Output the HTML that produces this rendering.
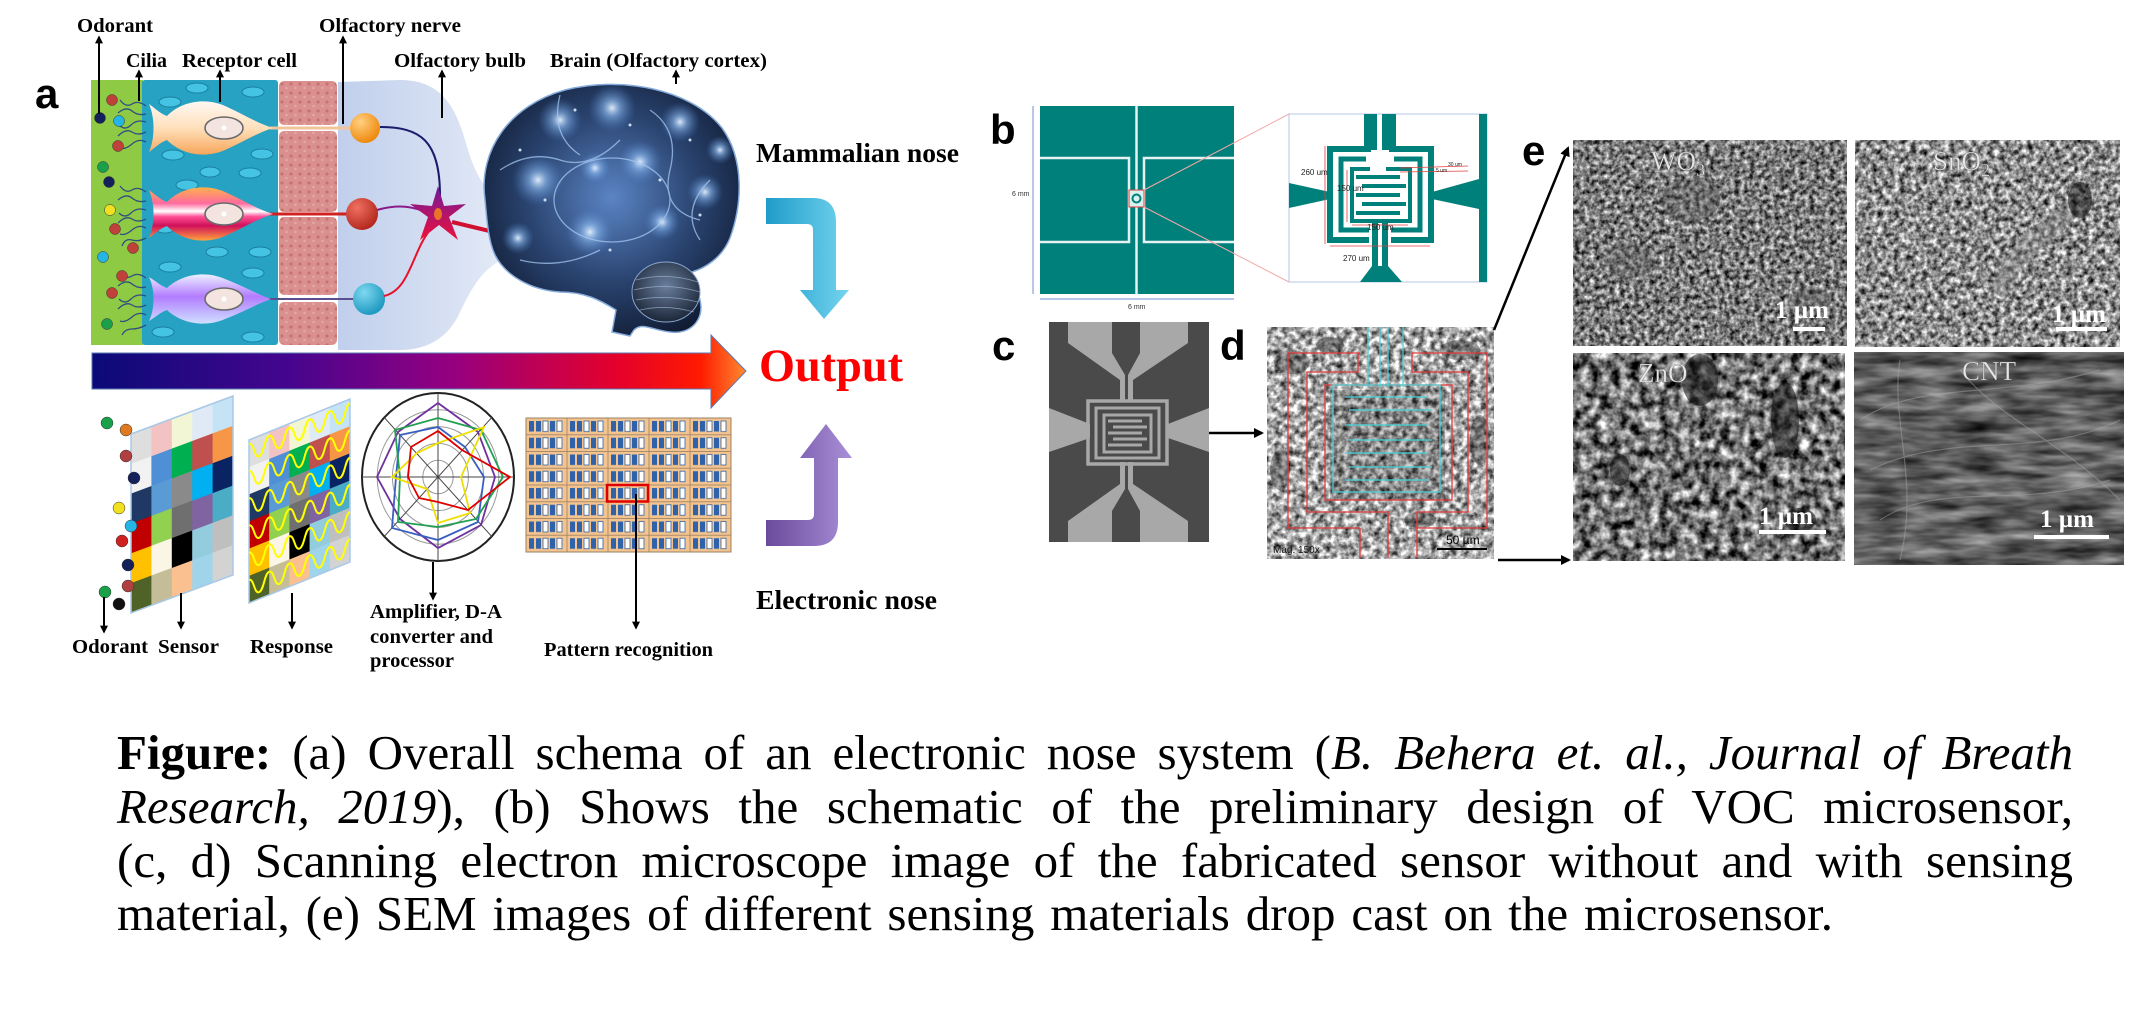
<!DOCTYPE html>
<html><head><meta charset="utf-8">
<style>
html,body{margin:0;padding:0;background:#fff;}
#wrap{position:relative;width:2138px;height:1013px;overflow:hidden;background:#fff;}
svg{position:absolute;left:0;top:0;}
.cap{position:absolute;left:117px;font-family:"Liberation Serif","Times New Roman",serif;font-size:49px;line-height:60px;color:#000;text-align:justify;text-align-last:justify;}
</style></head><body><div id="wrap">
<svg width="2138" height="1013" viewBox="0 0 2138 1013" xmlns="http://www.w3.org/2000/svg">
<defs>
<linearGradient id="gA" gradientUnits="userSpaceOnUse" x1="92" y1="0" x2="746" y2="0"><stop offset="0" stop-color="#0a0a78"/><stop offset="0.3" stop-color="#45058e"/><stop offset="0.55" stop-color="#950080"/><stop offset="0.8" stop-color="#e4002c"/><stop offset="0.93" stop-color="#ff1a00"/><stop offset="1" stop-color="#ff8a30"/></linearGradient>
<linearGradient id="gCy" x1="0" y1="0" x2="1" y2="0"><stop offset="0" stop-color="#1f9cc9"/><stop offset="1" stop-color="#74d4ef"/></linearGradient>
<linearGradient id="gPu" x1="0" y1="0" x2="1" y2="0"><stop offset="0" stop-color="#6a4a9c"/><stop offset="1" stop-color="#a98fd8"/></linearGradient>
<linearGradient id="c1" x1="0" y1="0" x2="0" y2="1"><stop offset="0" stop-color="#fff8f2"/><stop offset="0.5" stop-color="#ffe0bc"/><stop offset="1" stop-color="#f7a65a"/></linearGradient>
<linearGradient id="c2" x1="0" y1="0" x2="0" y2="1"><stop offset="0" stop-color="#ffb04a"/><stop offset="0.3" stop-color="#ff6aa0"/><stop offset="0.45" stop-color="#ffffff"/><stop offset="0.55" stop-color="#ff4f95"/><stop offset="0.72" stop-color="#d0105a"/><stop offset="1" stop-color="#ffa23c"/></linearGradient>
<linearGradient id="c3" x1="0" y1="0" x2="0" y2="1"><stop offset="0" stop-color="#ecf0ff"/><stop offset="0.45" stop-color="#b27cff"/><stop offset="1" stop-color="#cfe0ff"/></linearGradient>
<linearGradient id="gBulb" x1="0" y1="0" x2="1" y2="0"><stop offset="0" stop-color="#c0cfec"/><stop offset="1" stop-color="#e2e9f6"/></linearGradient>
<radialGradient id="gBrain" cx="0.5" cy="0.45" r="0.6"><stop offset="0" stop-color="#5b84c4"/><stop offset="0.55" stop-color="#2a4470"/><stop offset="1" stop-color="#101b32"/></radialGradient>
<radialGradient id="glow"><stop offset="0" stop-color="#e6f2ff" stop-opacity="0.95"/><stop offset="0.35" stop-color="#8fbdf2" stop-opacity="0.6"/><stop offset="1" stop-color="#4a7fc8" stop-opacity="0"/></radialGradient>
<radialGradient id="gCb" cx="0.5" cy="0.4" r="0.6"><stop offset="0" stop-color="#6a7f9c"/><stop offset="1" stop-color="#1c2638"/></radialGradient>
<radialGradient id="bO" cx="0.35" cy="0.3" r="0.7"><stop offset="0" stop-color="#ffd080"/><stop offset="1" stop-color="#ef8a10"/></radialGradient>
<radialGradient id="bR" cx="0.35" cy="0.3" r="0.7"><stop offset="0" stop-color="#f07060"/><stop offset="1" stop-color="#b52a20"/></radialGradient>
<radialGradient id="bB" cx="0.35" cy="0.3" r="0.7"><stop offset="0" stop-color="#7fd8f0"/><stop offset="1" stop-color="#1f9ac0"/></radialGradient>
<linearGradient id="gStar" x1="0" y1="0" x2="0" y2="1"><stop offset="0" stop-color="#6d1a9e"/><stop offset="1" stop-color="#f0103a"/></linearGradient>
<pattern id="pPink" width="9" height="9" patternUnits="userSpaceOnUse"><rect width="9" height="9" fill="#d9908f"/><circle cx="3" cy="3" r="1.6" fill="#c77372"/><circle cx="7.5" cy="7" r="1.2" fill="#e6aaa8"/></pattern>
<pattern id="pGrid" x="526" y="418" width="41" height="16.75" patternUnits="userSpaceOnUse">
<rect width="41" height="16.75" fill="#f3c48f" stroke="#9c8060" stroke-width="0.8"/>
<rect x="3" y="3" width="5" height="10.5" fill="#2f62a8"/><rect x="10" y="3" width="5" height="10.5" fill="#2f62a8"/>
<rect x="17" y="3" width="5" height="10.5" fill="#fff" stroke="#2f62a8" stroke-width="0.8"/>
<rect x="24" y="3" width="5" height="10.5" fill="#2f62a8"/>
<rect x="31" y="3" width="5" height="10.5" fill="#fff" stroke="#2f62a8" stroke-width="0.8"/>
</pattern>
<marker id="ah" viewBox="0 0 10 10" refX="8" refY="5" markerWidth="4" markerHeight="4" orient="auto"><path d="M0,0 L10,5 L0,10 z" fill="#000"/></marker>
<filter id="fW" x="0" y="0" width="1" height="1" color-interpolation-filters="sRGB"><feTurbulence type="fractalNoise" baseFrequency="0.2" numOctaves="3" seed="4"/><feColorMatrix type="matrix" values="1.4 0 0 0 -0.22 1.4 0 0 0 -0.22 1.4 0 0 0 -0.22 0 0 0 0 1"/></filter>
<filter id="fS" x="0" y="0" width="1" height="1" color-interpolation-filters="sRGB"><feTurbulence type="fractalNoise" baseFrequency="0.18" numOctaves="3" seed="9"/><feColorMatrix type="matrix" values="1.5 0 0 0 -0.2 1.5 0 0 0 -0.2 1.5 0 0 0 -0.2 0 0 0 0 1"/></filter>
<filter id="fZ" x="0" y="0" width="1" height="1" color-interpolation-filters="sRGB"><feTurbulence type="fractalNoise" baseFrequency="0.1" numOctaves="3" seed="17"/><feColorMatrix type="matrix" values="1.7 0 0 0 -0.4 1.7 0 0 0 -0.4 1.7 0 0 0 -0.4 0 0 0 0 1"/></filter>
<filter id="fC" x="0" y="0" width="1" height="1" color-interpolation-filters="sRGB"><feTurbulence type="fractalNoise" baseFrequency="0.02 0.09" numOctaves="3" seed="5"/><feColorMatrix type="matrix" values="0.8 0 0 0 -0.03 0.8 0 0 0 -0.03 0.8 0 0 0 -0.03 0 0 0 0 1"/></filter>
<filter id="fD" x="0" y="0" width="1" height="1" color-interpolation-filters="sRGB"><feTurbulence type="fractalNoise" baseFrequency="0.16" numOctaves="3" seed="2"/><feColorMatrix type="matrix" values="1.5 0 0 0 -0.1 1.5 0 0 0 -0.1 1.5 0 0 0 -0.1 0 0 0 0 1"/></filter>
<g id="cells">
<rect x="0" y="0" width="1.02" height="1.02" fill="#dedede"/><rect x="1" y="0" width="1.02" height="1.02" fill="#f3c3c3"/><rect x="2" y="0" width="1.02" height="1.02" fill="#f2f6d4"/><rect x="3" y="0" width="1.02" height="1.02" fill="#dfeaf6"/><rect x="4" y="0" width="1.02" height="1.02" fill="#c4e4f6"/>
<rect x="0" y="1" width="1.02" height="1.02" fill="#f2f2f2"/><rect x="1" y="1" width="1.02" height="1.02" fill="#4e8fd6"/><rect x="2" y="1" width="1.02" height="1.02" fill="#00b050"/><rect x="3" y="1" width="1.02" height="1.02" fill="#c0504d"/><rect x="4" y="1" width="1.02" height="1.02" fill="#f79646"/>
<rect x="0" y="2" width="1.02" height="1.02" fill="#1f3864"/><rect x="1" y="2" width="1.02" height="1.02" fill="#5b9bd5"/><rect x="2" y="2" width="1.02" height="1.02" fill="#8a8a8a"/><rect x="3" y="2" width="1.02" height="1.02" fill="#00b0f0"/><rect x="4" y="2" width="1.02" height="1.02" fill="#0a2463"/>
<rect x="0" y="3" width="1.02" height="1.02" fill="#c00000"/><rect x="1" y="3" width="1.02" height="1.02" fill="#92d050"/><rect x="2" y="3" width="1.02" height="1.02" fill="#6f6f6f"/><rect x="3" y="3" width="1.02" height="1.02" fill="#8064a2"/><rect x="4" y="3" width="1.02" height="1.02" fill="#4bacc6"/>
<rect x="0" y="4" width="1.02" height="1.02" fill="#ffc000"/><rect x="1" y="4" width="1.02" height="1.02" fill="#fbf5e6"/><rect x="2" y="4" width="1.02" height="1.02" fill="#000000"/><rect x="3" y="4" width="1.02" height="1.02" fill="#93cddd"/><rect x="4" y="4" width="1.02" height="1.02" fill="#bfbfbf"/>
<rect x="0" y="5" width="1.02" height="1" fill="#4f6228"/><rect x="1" y="5" width="1.02" height="1" fill="#c4bd97"/><rect x="2" y="5" width="1.02" height="1" fill="#fac090"/><rect x="3" y="5" width="1.02" height="1" fill="#9fd4ea"/><rect x="4" y="5" width="1" height="1" fill="#d3d3d3"/>
<rect x="0" y="0" width="5" height="6" fill="none" stroke="#a8c8e8" stroke-width="1.5" vector-effect="non-scaling-stroke"/>
</g>
</defs>

<!-- ========== PANEL A ========== -->
<text x="35" y="108" font-family="Liberation Sans, Arial, sans-serif" font-weight="bold" font-size="42">a</text>

<path d="M338,82 L400,80 C440,80 455,105 465,140 C472,165 480,185 498,200 L498,262 C480,272 470,292 460,312 C450,335 430,350 400,350 L338,350 Z" fill="url(#gBulb)"/>
<rect x="91" y="80" width="52" height="265" fill="#8fca45"/>
<rect x="142" y="80" width="136" height="265" rx="3" fill="#27a2c2"/>
<g fill="#45c3e3" stroke="#1a7f9f" stroke-width="1">
<ellipse cx="170" cy="102" rx="11" ry="5"/><ellipse cx="197" cy="88" rx="11" ry="5"/><ellipse cx="253" cy="92" rx="11" ry="5"/>
<ellipse cx="173" cy="155" rx="11" ry="5"/><ellipse cx="262" cy="154" rx="11" ry="5"/><ellipse cx="250" cy="173" rx="11" ry="5"/>
<ellipse cx="187" cy="185" rx="11" ry="5"/><ellipse cx="217" cy="252" rx="11" ry="5"/><ellipse cx="260" cy="252" rx="11" ry="5"/>
<ellipse cx="170" cy="267" rx="11" ry="5"/><ellipse cx="253" cy="273" rx="11" ry="5"/><ellipse cx="163" cy="332" rx="11" ry="5"/><ellipse cx="253" cy="337" rx="11" ry="5"/>
<ellipse cx="210" cy="172" rx="10" ry="5"/><ellipse cx="165" cy="228" rx="10" ry="5"/>
</g>
<g fill="url(#pPink)">
<rect x="279" y="81" width="58" height="44" rx="5"/><rect x="279" y="131" width="58" height="81" rx="5"/>
<rect x="279" y="217" width="58" height="78" rx="5"/><rect x="279" y="302" width="58" height="43" rx="5"/>
</g>
<g fill="none" stroke="#2f4f80" stroke-width="1.3">
<path d="M146,106 q-8,-6 -14,-2 t-12,-4"/><path d="M146,114 q-8,2 -14,-3 t-14,2"/><path d="M146,122 q-9,-3 -15,3 t-12,0"/><path d="M146,132 q-8,4 -14,0 t-14,4"/><path d="M146,142 q-7,-4 -14,2 t-12,4"/>
<path d="M146,192 q-8,-6 -14,-2 t-12,-4"/><path d="M146,201 q-8,2 -14,-3 t-14,2"/><path d="M146,210 q-9,-3 -15,3 t-12,0"/><path d="M146,219 q-8,4 -14,0 t-14,4"/><path d="M146,228 q-7,-4 -14,2 t-12,4"/><path d="M146,238 q-7,4 -14,2 t-10,6"/>
<path d="M146,278 q-8,-6 -14,-2 t-12,-4"/><path d="M146,287 q-8,2 -14,-3 t-14,2"/><path d="M146,296 q-9,-3 -15,3 t-12,0"/><path d="M146,305 q-8,4 -14,0 t-14,4"/><path d="M146,315 q-7,-4 -14,2 t-12,4"/><path d="M146,325 q-7,4 -14,4 t-10,6"/>
</g>
<g stroke="#333" stroke-width="0.5">
<circle cx="112" cy="100" r="5.5" fill="#c0403a"/><circle cx="100" cy="118" r="5.5" fill="#14205a"/><circle cx="119" cy="121" r="5.5" fill="#25b5e5"/>
<circle cx="118" cy="146" r="5.5" fill="#c0403a"/><circle cx="103" cy="167" r="5.5" fill="#1aa04a"/><circle cx="109" cy="182" r="5.5" fill="#14205a"/>
<circle cx="110" cy="210" r="5.5" fill="#f0e020"/><circle cx="115" cy="229" r="5.5" fill="#c0403a"/><circle cx="133" cy="248" r="5.5" fill="#c0403a"/>
<circle cx="103" cy="257" r="5.5" fill="#25b5e5"/><circle cx="122" cy="276" r="5.5" fill="#c0403a"/><circle cx="112" cy="293" r="5.5" fill="#c0403a"/><circle cx="107" cy="324" r="5.5" fill="#1aa04a"/>
</g>
<line x1="270" y1="128" x2="352" y2="128" stroke="#f3c49a" stroke-width="3"/>
<line x1="270" y1="214" x2="348" y2="214" stroke="#d02020" stroke-width="3"/>
<line x1="268" y1="299" x2="355" y2="299" stroke="#5c4f8e" stroke-width="2"/>
<path transform="translate(147,128)" d="M2,-24 C10,-18 14,-14 20,-12 C36,-28 60,-30 78,-22 C96,-14 110,-5 126,0 C110,5 96,14 78,22 C60,30 36,28 20,12 C14,14 10,18 2,24 C8,10 8,-10 2,-24 Z" fill="url(#c1)"/>
<path transform="translate(147,214)" d="M2,-24 C10,-18 14,-14 20,-12 C36,-28 60,-30 78,-22 C96,-14 110,-5 126,0 C110,5 96,14 78,22 C60,30 36,28 20,12 C14,14 10,18 2,24 C8,10 8,-10 2,-24 Z" fill="url(#c2)"/>
<path transform="translate(147,299)" d="M2,-22 C10,-17 14,-13 20,-11 C36,-26 60,-28 78,-20 C96,-13 110,-5 124,0 C110,5 96,13 78,20 C60,28 36,26 20,11 C14,13 10,17 2,22 C8,10 8,-10 2,-22 Z" fill="url(#c3)"/>
<g fill="#f3e4e0" stroke="#6a6a6a" stroke-width="1.6">
<ellipse cx="224" cy="128" rx="19" ry="11"/><ellipse cx="224" cy="214" rx="19" ry="11"/><ellipse cx="224" cy="299" rx="19" ry="11"/>
</g>
<g fill="#fff"><circle cx="224" cy="128" r="2.5"/><circle cx="224" cy="214" r="2.5"/><circle cx="224" cy="299" r="2.5"/></g>
<circle cx="365" cy="128" r="15" fill="url(#bO)"/>
<circle cx="362" cy="214" r="16" fill="url(#bR)"/>
<circle cx="369" cy="299" r="16" fill="url(#bB)"/>
<path d="M380,127 C420,127 440,140 440,196" fill="none" stroke="#1b1b6b" stroke-width="2"/>
<path d="M377,210 C398,204 414,206 430,214" fill="none" stroke="#8b1a8b" stroke-width="2"/>
<path d="M384,296 C410,290 412,252 430,230" fill="none" stroke="#e8102a" stroke-width="2"/>
<path d="M452,222 L498,233" stroke="#d01030" stroke-width="4"/>
<polygon points="438,186 444,206 466,204 449,217 458,240 439,225 420,240 428,217 410,204 432,206" fill="url(#gStar)"/>
<ellipse cx="438" cy="214" rx="4" ry="6" fill="#e8742a"/>
<!-- brain -->
<path d="M485,200 C478,150 510,105 565,90 C620,76 690,88 722,128 C745,160 742,205 730,238 C722,258 705,268 692,272 L700,300 C705,320 690,335 670,332 C652,330 642,322 634,330 L630,336 L612,332 L616,310 C600,300 585,292 560,292 C530,290 505,275 495,255 C488,240 487,220 485,200 Z" fill="url(#gBrain)" stroke="#86acdc" stroke-width="1.5"/>
<ellipse cx="666" cy="292" rx="34" ry="30" fill="url(#gCb)" stroke="#8aa6cc" stroke-width="1"/>
<g stroke="#9fb6d6" stroke-width="0.8" fill="none" opacity="0.7">
<path d="M636,280 q30,-8 62,2"/><path d="M634,290 q32,-8 66,2"/><path d="M636,300 q30,-6 62,2"/><path d="M640,310 q26,-6 54,2"/>
</g>
<g fill="url(#glow)">
<circle cx="560" cy="120" r="22"/><circle cx="612" cy="108" r="24"/><circle cx="680" cy="122" r="20"/><circle cx="538" cy="180" r="26"/>
<circle cx="640" cy="162" r="22"/><circle cx="705" cy="192" r="18"/><circle cx="590" cy="232" r="24"/><circle cx="662" cy="222" r="18"/>
<circle cx="518" cy="238" r="16"/><circle cx="720" cy="150" r="14"/><circle cx="595" cy="168" r="16"/>
</g>
<g stroke="#a6c8f2" stroke-width="1.3" fill="none" opacity="0.75">
<ellipse cx="612" cy="200" rx="58" ry="42"/>
<path d="M500,170 q30,-20 60,-10 t60,-20"/><path d="M520,260 q40,10 80,-10"/><path d="M650,110 q30,20 20,60 t30,50"/>
<path d="M560,95 q-10,40 20,60"/><path d="M700,240 q-20,-30 10,-60"/>
</g>
<g fill="#dcecff" opacity="0.9">
<circle cx="575" cy="110" r="1.5"/><circle cx="630" cy="125" r="1.5"/><circle cx="690" cy="140" r="1.5"/><circle cx="545" cy="200" r="1.5"/><circle cx="660" cy="180" r="1.5"/><circle cx="610" cy="250" r="1.5"/><circle cx="700" cy="215" r="1.5"/><circle cx="520" cy="150" r="1.5"/>
</g>

<g font-family="Liberation Serif, Times New Roman, serif" font-weight="bold" font-size="20" fill="#000">
<text x="77" y="32" textLength="76" lengthAdjust="spacingAndGlyphs">Odorant</text>
<text x="319" y="32" textLength="142" lengthAdjust="spacingAndGlyphs">Olfactory nerve</text>
<text x="126" y="67" textLength="41" lengthAdjust="spacingAndGlyphs">Cilia</text>
<text x="182" y="67" textLength="115" lengthAdjust="spacingAndGlyphs">Receptor cell</text>
<text x="394" y="67" textLength="132" lengthAdjust="spacingAndGlyphs">Olfactory bulb</text>
<text x="550" y="67" textLength="217" lengthAdjust="spacingAndGlyphs">Brain (Olfactory cortex)</text>
</g>
<g stroke="#000" stroke-width="2" marker-end="url(#ah)">
<line x1="99" y1="114" x2="99" y2="37"/>
<line x1="139" y1="101" x2="139" y2="71"/>
<line x1="220" y1="102" x2="220" y2="71"/>
<line x1="343" y1="124" x2="343" y2="37"/>
<line x1="442" y1="118" x2="442" y2="71"/>
<line x1="676" y1="84" x2="676" y2="71"/>
</g>

<path d="M92,353 L711,353 L711,335 L746,371 L711,408 L711,389 L92,389 Z" fill="url(#gA)" stroke="#5a78b0" stroke-width="1"/>
<text x="759" y="381" font-family="Liberation Serif, Times New Roman, serif" font-weight="bold" font-size="47" fill="#ff0000" textLength="144" lengthAdjust="spacingAndGlyphs">Output</text>

<text x="756" y="162" font-family="Liberation Serif, Times New Roman, serif" font-weight="bold" font-size="27" textLength="203" lengthAdjust="spacingAndGlyphs">Mammalian nose</text>
<path d="M766,198 L813,198 Q836,198 836,222 L836,290 L849,290 L824,319 L800,290 L813,290 L813,230 Q813,224 807,224 L766,224 Z" fill="url(#gCy)"/>
<path d="M766,546 L814,546 Q838,546 838,522 L838,458 L852,458 L826,424 L800,458 L814,458 L814,514 Q814,520 808,520 L766,520 Z" fill="url(#gPu)"/>
<text x="756" y="609" font-family="Liberation Serif, Times New Roman, serif" font-weight="bold" font-size="27" textLength="181" lengthAdjust="spacingAndGlyphs">Electronic nose</text>

<use href="#cells" transform="matrix(20.4,-7.6,0,29.83,131,434)"/>
<g stroke="#333" stroke-width="0.5">
<circle cx="107" cy="423" r="6" fill="#1aa04a"/><circle cx="126" cy="430" r="6" fill="#e07a20"/><circle cx="126" cy="456" r="6" fill="#b04040"/>
<circle cx="134" cy="478" r="6" fill="#14205a"/><circle cx="119" cy="508" r="6" fill="#f0e020"/><circle cx="131" cy="526" r="6" fill="#25b5e5"/>
<circle cx="122" cy="541" r="6" fill="#d02020"/><circle cx="128" cy="565" r="6" fill="#14205a"/><circle cx="128" cy="586" r="6" fill="#b04040"/>
<circle cx="105" cy="592" r="6" fill="#1aa04a"/><circle cx="119" cy="604" r="6" fill="#111"/>
</g>
<g transform="matrix(20.2,-8.2,0,27.17,249,440)">
<use href="#cells"/>
<path fill="none" stroke="#ffff00" stroke-width="2" vector-effect="non-scaling-stroke" d="
M0,0.15 c.25,0 .25,.6 .5,.6 c.25,0 .25,-.6 .5,-.6 c.25,0 .25,.6 .5,.6 c.25,0 .25,-.6 .5,-.6 c.25,0 .25,.6 .5,.6 c.25,0 .25,-.6 .5,-.6 c.25,0 .25,.6 .5,.6 c.25,0 .25,-.6 .5,-.6 c.25,0 .25,.6 .5,.6 c.25,0 .25,-.6 .5,-.6
M0,1.15 c.25,0 .25,.6 .5,.6 c.25,0 .25,-.6 .5,-.6 c.25,0 .25,.6 .5,.6 c.25,0 .25,-.6 .5,-.6 c.25,0 .25,.6 .5,.6 c.25,0 .25,-.6 .5,-.6 c.25,0 .25,.6 .5,.6 c.25,0 .25,-.6 .5,-.6 c.25,0 .25,.6 .5,.6 c.25,0 .25,-.6 .5,-.6
M0,2.15 c.25,0 .25,.6 .5,.6 c.25,0 .25,-.6 .5,-.6 c.25,0 .25,.6 .5,.6 c.25,0 .25,-.6 .5,-.6 c.25,0 .25,.6 .5,.6 c.25,0 .25,-.6 .5,-.6 c.25,0 .25,.6 .5,.6 c.25,0 .25,-.6 .5,-.6 c.25,0 .25,.6 .5,.6 c.25,0 .25,-.6 .5,-.6
M0,3.15 c.25,0 .25,.6 .5,.6 c.25,0 .25,-.6 .5,-.6 c.25,0 .25,.6 .5,.6 c.25,0 .25,-.6 .5,-.6 c.25,0 .25,.6 .5,.6 c.25,0 .25,-.6 .5,-.6 c.25,0 .25,.6 .5,.6 c.25,0 .25,-.6 .5,-.6 c.25,0 .25,.6 .5,.6 c.25,0 .25,-.6 .5,-.6
M0,4.15 c.25,0 .25,.6 .5,.6 c.25,0 .25,-.6 .5,-.6 c.25,0 .25,.6 .5,.6 c.25,0 .25,-.6 .5,-.6 c.25,0 .25,.6 .5,.6 c.25,0 .25,-.6 .5,-.6 c.25,0 .25,.6 .5,.6 c.25,0 .25,-.6 .5,-.6 c.25,0 .25,.6 .5,.6 c.25,0 .25,-.6 .5,-.6
M0,5.15 c.25,0 .25,.6 .5,.6 c.25,0 .25,-.6 .5,-.6 c.25,0 .25,.6 .5,.6 c.25,0 .25,-.6 .5,-.6 c.25,0 .25,.6 .5,.6 c.25,0 .25,-.6 .5,-.6 c.25,0 .25,.6 .5,.6 c.25,0 .25,-.6 .5,-.6 c.25,0 .25,.6 .5,.6 c.25,0 .25,-.6 .5,-.6"/>
</g>

<ellipse cx="438" cy="477" rx="76" ry="84" fill="#fff" stroke="#222" stroke-width="2"/>
<g fill="none" stroke="#9a9a9a" stroke-width="1">
<ellipse cx="438" cy="477" rx="15.2" ry="16.8"/><ellipse cx="438" cy="477" rx="30.4" ry="33.6"/><ellipse cx="438" cy="477" rx="45.6" ry="50.4"/><ellipse cx="438" cy="477" rx="60.8" ry="67.2"/>
</g>
<g stroke="#444" stroke-width="1">
<line x1="438" y1="393" x2="438" y2="561"/><line x1="362" y1="477" x2="514" y2="477"/>
<line x1="384.3" y1="417.6" x2="491.7" y2="536.4"/><line x1="384.3" y1="536.4" x2="491.7" y2="417.6"/>
</g>
<g fill="none" stroke-width="1.8">
<polygon points="438,403 478,432 495,477 481,525 438,548 400,519 377,477 398,432" stroke="#7030a0"/>
<polygon points="438,427 465,447 484,477 478,522 438,540 392,528 396,477 400,435" stroke="#3a5fc0"/>
<polygon points="438,418 481,430 503,477 476,519 438,527 398,522 400,477 395,430" stroke="#20a050"/>
<polygon points="438,443 484,427 461,477 470,513 438,523 427,489 392,477 417,453" stroke="#f0e000"/>
<polygon points="438,431 462,450 510,477 468,510 438,502 419,498 408,477 411,447" stroke="#e00000"/>
</g>

<rect x="526" y="418" width="205" height="134" fill="url(#pGrid)" stroke="#9c8060" stroke-width="1"/>
<rect x="607" y="485" width="41" height="16.5" fill="none" stroke="#e00000" stroke-width="2.5"/>

<g stroke="#000" stroke-width="2" marker-end="url(#ah)">
<line x1="104" y1="597" x2="104" y2="632"/>
<line x1="181" y1="593" x2="181" y2="628"/>
<line x1="292" y1="593" x2="292" y2="628"/>
<line x1="433" y1="562" x2="433" y2="599"/>
<line x1="636" y1="494" x2="636" y2="628"/>
</g>
<g font-family="Liberation Serif, Times New Roman, serif" font-weight="bold" font-size="20" fill="#000">
<text x="72" y="653" textLength="76" lengthAdjust="spacingAndGlyphs">Odorant</text>
<text x="158" y="653" textLength="61" lengthAdjust="spacingAndGlyphs">Sensor</text>
<text x="250" y="653" textLength="83" lengthAdjust="spacingAndGlyphs">Response</text>
<text x="370" y="618" textLength="132" lengthAdjust="spacingAndGlyphs">Amplifier, D-A</text>
<text x="370" y="643" textLength="123" lengthAdjust="spacingAndGlyphs">converter and</text>
<text x="370" y="667" textLength="84" lengthAdjust="spacingAndGlyphs">processor</text>
<text x="544" y="656" textLength="169" lengthAdjust="spacingAndGlyphs">Pattern recognition</text>
</g>

<!-- ========== PANEL B ========== -->
<g font-family="Liberation Sans, Arial, sans-serif" font-weight="bold" font-size="42" fill="#000">
<text x="990" y="144">b</text><text x="992" y="360">c</text><text x="1220" y="360">d</text><text x="1522" y="165">e</text>
</g>
<rect x="1040" y="106" width="194" height="188" fill="#00807b"/>
<g stroke="#e6f2f1" stroke-width="2.5" fill="none">
<line x1="1136.5" y1="106" x2="1136.5" y2="190"/><line x1="1136.5" y1="207" x2="1136.5" y2="294"/>
<path d="M1040,158 H1129 V242 H1040"/><path d="M1234,158 H1144 V242 H1234"/>
</g>
<rect x="1129" y="190" width="15" height="17" fill="#d8f0ee" stroke="#e04040" stroke-width="1"/>
<circle cx="1136.5" cy="198.5" r="4" fill="none" stroke="#00807b" stroke-width="2"/>
<g stroke="#6f8fd0" stroke-width="1"><line x1="1033" y1="106" x2="1033" y2="294"/><line x1="1040" y1="299" x2="1234" y2="299"/></g>
<g font-family="Liberation Sans, Arial, sans-serif" font-size="7" fill="#333"><text x="1012" y="196">6 mm</text><text x="1128" y="309">6 mm</text></g>
<g stroke="#f4a8a8" stroke-width="1"><line x1="1144" y1="190" x2="1289" y2="114"/><line x1="1144" y1="207" x2="1289" y2="282"/></g>
<rect x="1289" y="114" width="198" height="168" fill="#fff" stroke="#b4c7e7" stroke-width="1"/>
<g fill="#00807b">
<rect x="1364" y="114" width="13" height="36"/><rect x="1382" y="114" width="14" height="36"/>
<rect x="1479" y="114" width="8" height="168"/>
<polygon points="1289,183 1330,192 1330,199 1289,208"/>
<polygon points="1432,192 1479,179 1479,209 1432,199"/>
<rect x="1372" y="222" width="6" height="48"/><rect x="1382" y="222" width="6" height="48"/>
<polygon points="1360,282 1372,266 1388,266 1402,282"/>
</g>
<g fill="none" stroke="#00807b">
<path d="M1371,149 H1330 V240 H1369 M1389,149 H1431 V240 H1391" stroke-width="6"/>
<path d="M1366,159 H1341 V230 H1369 M1394,159 H1420 V230 H1391" stroke-width="5"/>
<path d="M1370,169 H1352 V221 H1410 V169 H1386" stroke-width="4"/>
<path d="M1356,177 H1400 M1406,186 H1362 M1356,195 H1400 M1406,204 H1362 M1356,213 H1400" stroke-width="4"/>
</g>
<g stroke="#e04040" stroke-width="0.8" fill="none">
<line x1="1325" y1="146" x2="1325" y2="244"/><line x1="1330" y1="246" x2="1430" y2="246"/>
<line x1="1347" y1="170" x2="1347" y2="222"/><line x1="1352" y1="225" x2="1408" y2="225"/>
<line x1="1400" y1="168" x2="1468" y2="166"/><line x1="1400" y1="172" x2="1468" y2="171"/>
</g>
<g font-family="Liberation Sans, Arial, sans-serif" font-size="8" fill="#222">
<text x="1301" y="175">260 um</text><text x="1337" y="191">150 um</text><text x="1367" y="230">150 um</text><text x="1343" y="261">270 um</text>
<text x="1448" y="166" font-size="5">30 um</text><text x="1436" y="172" font-size="5">5 um</text>
</g>

<!-- ========== PANEL C ========== -->
<rect x="1049" y="322" width="160" height="220" fill="#4a4a4a"/>
<g fill="#a8a8a8">
<polygon points="1068,322 1112,322 1112,353 1125,375 1125,402 1120,402 1120,380 1068,343"/>
<polygon points="1140,322 1188,322 1188,343 1133,380 1133,402 1128,402 1128,375 1140,353"/>
<polygon points="1068,542 1112,542 1112,511 1125,489 1125,462 1120,462 1120,484 1068,521"/>
<polygon points="1140,542 1188,542 1188,521 1133,484 1133,462 1128,462 1128,489 1140,511"/>
<polygon points="1049,408 1090,424 1090,438 1049,452"/>
<polygon points="1209,408 1168,424 1168,438 1209,452"/>
</g>
<g fill="none" stroke="#a8a8a8">
<rect x="1088" y="401" width="79" height="63" stroke-width="3.5"/>
<rect x="1096" y="408" width="63" height="50" stroke-width="3"/>
<rect x="1104" y="415" width="47" height="37" stroke-width="3"/>
<path d="M1108,421 H1142 M1147,427 H1113 M1108,433 H1142 M1147,439 H1113 M1108,445 H1142" stroke-width="3"/>
</g>
<line x1="1209" y1="433" x2="1262" y2="433" stroke="#000" stroke-width="2.5" marker-end="url(#ah)"/>

<!-- ========== PANEL D ========== -->
<rect x="1267" y="327" width="227" height="232" filter="url(#fD)"/>
<g fill="#2a2a2a" opacity="0.4">
<ellipse cx="1292" cy="362" rx="18" ry="12"/><ellipse cx="1330" cy="345" rx="14" ry="8"/><ellipse cx="1460" cy="350" rx="20" ry="10"/>
<ellipse cx="1280" cy="470" rx="10" ry="20"/><ellipse cx="1480" cy="440" rx="10" ry="25"/><ellipse cx="1420" cy="520" rx="16" ry="8"/>
</g>
<rect x="1330" y="390" width="115" height="110" fill="#000" opacity="0.18"/>
<g fill="none" stroke="#e03a3a" stroke-width="1.3">
<path d="M1360,353 H1288 V528 H1360"/><path d="M1412,353 H1487 V528 H1415"/>
<path d="M1358,353 V372 H1307 V512 H1388 V558"/><path d="M1412,353 V372 H1468 V512 H1417 V558"/>
<rect x="1325" y="385" width="127" height="115"/><line x1="1360" y1="528" x2="1360" y2="558"/>
</g>
<g fill="none" stroke="#45d5dc" stroke-width="1.2">
<path d="M1368,327 V387 M1380,327 V387 M1388,327 V387 M1403,327 V387"/>
<rect x="1333" y="385" width="107" height="107"/>
<path d="M1345,397 H1428 M1432,410 H1349 M1345,425 H1428 M1432,440 H1349 M1345,453 H1428 M1432,467 H1349 M1345,480 H1428"/>
</g>
<text x="1273" y="553" font-family="Liberation Sans, Arial, sans-serif" font-size="10" fill="#111">Mag. 150x</text>
<text x="1446" y="544" font-family="Liberation Sans, Arial, sans-serif" font-size="12" fill="#000">50 µm</text>
<line x1="1437" y1="549" x2="1487" y2="549" stroke="#000" stroke-width="2"/>
<line x1="1494" y1="330" x2="1568" y2="148" stroke="#000" stroke-width="2.5" marker-end="url(#ah)"/>
<line x1="1498" y1="560" x2="1569" y2="560" stroke="#000" stroke-width="2.5" marker-end="url(#ah)"/>

<!-- ========== PANEL E ========== -->
<rect x="1573" y="140" width="274" height="206" filter="url(#fW)"/>
<rect x="1855" y="140" width="265" height="207" filter="url(#fS)"/>
<rect x="1573" y="353" width="272" height="208" filter="url(#fZ)"/>
<rect x="1854" y="352" width="270" height="213" filter="url(#fC)"/>
<g fill="#555" opacity="0.35">
<ellipse cx="1690" cy="200" rx="30" ry="22"/><ellipse cx="1630" cy="260" rx="25" ry="18"/><ellipse cx="1810" cy="300" rx="20" ry="14"/>
</g>
<g fill="#888" opacity="0.35">
<path d="M1990,290 C2010,240 2040,220 2070,200 L2080,215 C2050,240 2020,260 2005,300 Z"/>
</g>
<g fill="none" stroke="#a8a8a8" stroke-width="1.2" opacity="0.45">
<path d="M1860,420 C1920,380 2000,400 2100,370"/><path d="M1870,470 C1950,430 2040,460 2120,420"/><path d="M1880,520 C1940,480 2020,510 2110,480"/>
<path d="M1900,360 C1890,420 1920,480 1900,560"/><path d="M1960,370 C2000,420 2060,440 2120,500"/>
</g>
<g fill="#141414" opacity="0.55">
<ellipse cx="1700" cy="380" rx="18" ry="26"/><ellipse cx="1785" cy="420" rx="14" ry="38"/><ellipse cx="1620" cy="470" rx="10" ry="16"/><ellipse cx="1800" cy="520" rx="16" ry="12"/>
<ellipse cx="2080" cy="200" rx="12" ry="18"/>
</g>
<g font-family="Liberation Serif, Times New Roman, serif" font-size="27" fill="#e6e6e6" stroke="#555" stroke-width="0.3">
<text x="1651" y="170">WO<tspan font-size="18" dy="6">3</tspan></text>
<text x="1933" y="170">SnO<tspan font-size="18" dy="6">2</tspan></text>
<text x="1638" y="382">ZnO</text>
<text x="1962" y="380">CNT</text>
</g>
<g font-family="Liberation Serif, Times New Roman, serif" font-weight="bold" font-size="25" fill="#fff">
<text x="1775" y="318">1 µm</text><text x="2052" y="322">1 µm</text><text x="1759" y="524">1 µm</text><text x="2040" y="527">1 µm</text>
</g>
<g fill="#fff">
<rect x="1793" y="327" width="32" height="4"/><rect x="2056" y="327" width="51" height="4"/><rect x="1759" y="530" width="67" height="4"/><rect x="2034" y="535" width="75" height="4"/>
</g>
</svg>

<div class="cap" style="top:723px;width:1956px"><b>Figure:</b> (a) Overall schema of an electronic nose system (<i>B. Behera et. al., Journal of Breath</i></div>
<div class="cap" style="top:777px;width:1956px"><i>Research, 2019</i>), (b) Shows the schematic of the preliminary design of VOC microsensor,</div>
<div class="cap" style="top:831px;width:1956px">(c, d) Scanning electron microscope image of the fabricated sensor without and with sensing</div>
<div class="cap" style="top:884px;width:1716px">material, (e) SEM images of different sensing materials drop cast on the microsensor.</div>
</div></body></html>
